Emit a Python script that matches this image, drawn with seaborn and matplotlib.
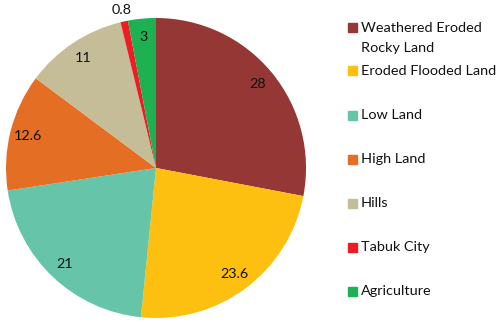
import numpy as np
import matplotlib
matplotlib.use("Agg")
import matplotlib.pyplot as plt
from matplotlib.patches import Rectangle
import seaborn as sns

# land classes and their shares (%)
categories = ["Weathered Eroded\nRocky Land", "Eroded Flooded Land", "Low Land",
              "High Land", "Hills", "Tabuk City", "Agriculture"]
values = [28, 23.6, 21, 12.6, 11, 0.8, 3]
value_labels = ["28", "23.6", "21", "12.6", "11", "0.8", "3"]
colors = ["#953735", "#FDC010", "#66C5A8", "#E46F24", "#C4BD97", "#EE1C25", "#1DB152"]

sns.set_theme(style="white")
plt.rcParams['font.family'] = ['Lato', 'DejaVu Sans']
fs = 10.4

fig = plt.figure(figsize=(5, 3.24), dpi=100)
ax = fig.add_axes([6 / 500, 6 / 324, 300 / 500, 300 / 324])
wedges, _ = ax.pie(values, colors=colors, startangle=90, counterclock=False,
                   radius=1, wedgeprops=dict(linewidth=0))
ax.set_xlim(-1, 1)
ax.set_ylim(-1, 1)
ax.set_aspect("equal")

# value labels inside the slices, the tiny one just outside
for w, lab, v in zip(wedges, value_labels, values):
    ang = np.deg2rad((w.theta1 + w.theta2) / 2)
    r = 1.08 if v < 1 else 0.88
    ax.text(r * np.cos(ang), r * np.sin(ang), lab, ha="center", va="center",
            fontsize=fs, color="#111111")

# legend drawn by hand (excel-like spacing)
row_y = [27.5, 71, 115, 159, 203, 247, 291]
for y, lab, c in zip(row_y, categories, colors):
    fy = 1 - y / 324
    fig.patches.append(Rectangle((348 / 500, fy - 4.5 / 324), 8.5 / 500, 9 / 324,
                                 transform=fig.transFigure, color=c, figure=fig))
    lines = lab.split("\n")
    for i, ln in enumerate(lines):
        fig.text(361 / 500, 1 - (y + i * 20.5) / 324, ln, ha="left", va="center",
                 fontsize=fs, color="#111111")

fig.savefig("out.png", dpi=100)
